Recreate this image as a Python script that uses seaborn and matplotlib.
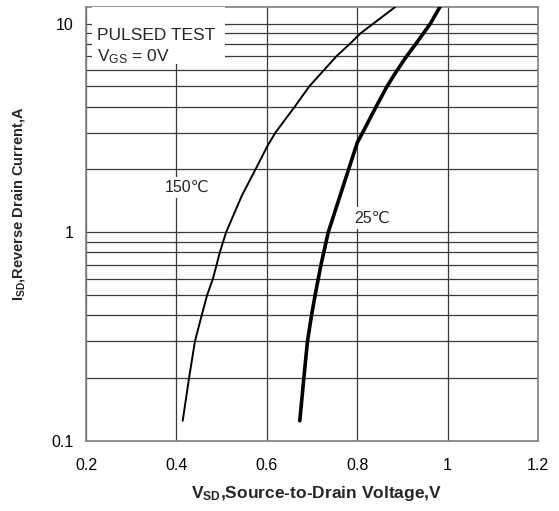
import numpy as np
import pandas as pd
import matplotlib
matplotlib.use("Agg")
import matplotlib.pyplot as plt
from matplotlib.patches import Rectangle
from matplotlib.ticker import FixedLocator, NullFormatter
import seaborn as sns

# 150 C curve (V_SD in V, I_SD in A)
v_150 = [0.414, 0.428, 0.441, 0.456, 0.468, 0.481, 0.496, 0.510, 0.545, 0.575, 0.601,
         0.619, 0.662, 0.694, 0.727, 0.755, 0.784, 0.808, 0.836, 0.884]
i_150 = [0.125, 0.2, 0.3, 0.4, 0.5, 0.6, 0.8, 1.0, 1.5, 2.0, 2.58,
         3.0, 4.0, 5.0, 6.0, 7.0, 8.0, 9.0, 10.0, 12.0]
# 25 C curve
v_25 = [0.673, 0.682, 0.690, 0.699, 0.707, 0.720, 0.736, 0.752, 0.781, 0.800,
        0.812, 0.842, 0.866, 0.889, 0.910, 0.930, 0.962, 0.983]
i_25 = [0.125, 0.2, 0.3, 0.4, 0.5, 0.7, 1.0, 1.28, 2.0, 2.68,
        3.0, 4.0, 5.0, 6.0, 7.0, 8.0, 10.0, 12.0]

x_ticks = [0.2, 0.4, 0.6, 0.8, 1.0, 1.2]
x_labels = ["0.2", "0.4", "0.6", "0.8", "1", "1.2"]
y_ticks = [0.1, 1, 10]
y_labels = ["0.1", "1", "10"]
y_minor = [0.2, 0.3, 0.4, 0.5, 0.6, 0.7, 0.8, 0.9, 2, 3, 4, 5, 6, 7, 8, 9]

sns.set_style("white")
plt.rcParams["font.family"] = ["Liberation Sans", "DejaVu Sans"]
plt.rcParams["mathtext.fontset"] = "custom"
plt.rcParams["mathtext.rm"] = "Liberation Sans"
plt.rcParams["mathtext.bf"] = "Liberation Sans:bold"

fig = plt.figure(figsize=(5.59, 5.11), dpi=100)
ax = fig.add_axes([0.1538, 0.137, 0.8086, 0.8493])

df150 = pd.DataFrame({"v": v_150, "i": i_150})
df25 = pd.DataFrame({"v": v_25, "i": i_25})
sns.lineplot(data=df150, x="v", y="i", ax=ax, color="black", lw=1.4, sort=False, zorder=4)
sns.lineplot(data=df25, x="v", y="i", ax=ax, color="black", lw=2.6, sort=False, zorder=4)

ax.set_yscale("log")
ax.set_xlim(0.2, 1.2)
ax.set_ylim(0.1, 12.0)
ax.xaxis.set_major_locator(FixedLocator(x_ticks))
ax.set_xticklabels(x_labels)
ax.yaxis.set_major_locator(FixedLocator(y_ticks))
ax.yaxis.set_minor_locator(FixedLocator(y_minor))
ax.yaxis.set_minor_formatter(NullFormatter())
ax.set_yticklabels(y_labels)
ax.tick_params(axis="both", which="both", length=0, labelsize=11.5, colors="black")
ax.tick_params(axis="x", pad=12)
ax.tick_params(axis="y", pad=9)

ax.grid(True, which="both", color="#3a3a3a", lw=0.9)
ax.set_axisbelow(True)
for s in ax.spines.values():
    s.set_color("#808080")
    s.set_linewidth(1.2)

ax.set_xlabel(r"$\mathbf{V_{SD}}$,Source-to-Drain Voltage,V", fontsize=12.5, fontweight="bold")
ax.set_ylabel(r"$\mathbf{I_{SD}}$,Reverse Drain Current,A", fontsize=10.5, fontweight="bold")
ax.xaxis.set_label_coords(0.51, -0.12)
ax.xaxis.label.set_va("center")
ax.yaxis.set_label_coords(-0.150, 0.547)
ax.yaxis.label.set_va("center")

# white box behind the test-condition note
ax.add_patch(Rectangle((0.2133, 6.4), 0.2942, 5.6, facecolor="white", edgecolor="none", zorder=3))
ax.text(0.2243, 8.75, "PULSED TEST", fontsize=12.5, va="center", ha="left", zorder=5)
ax.text(0.2243, 6.95, "$\\mathregular{V_{GS}}$ = 0V", fontsize=12.5, va="center", ha="left", zorder=5)

ax.text(0.4246, 1.635, "150℃", fontsize=11.5, ha="center", va="center", zorder=5,
        bbox=dict(facecolor="white", edgecolor="none", boxstyle="square,pad=0.2"))
ax.text(0.8327, 1.17, "25℃", fontsize=11.5, ha="center", va="center", zorder=5,
        bbox=dict(facecolor="white", edgecolor="none", boxstyle="square,pad=0.2"))

fig.savefig("out.png", dpi=100)
plt.close()
